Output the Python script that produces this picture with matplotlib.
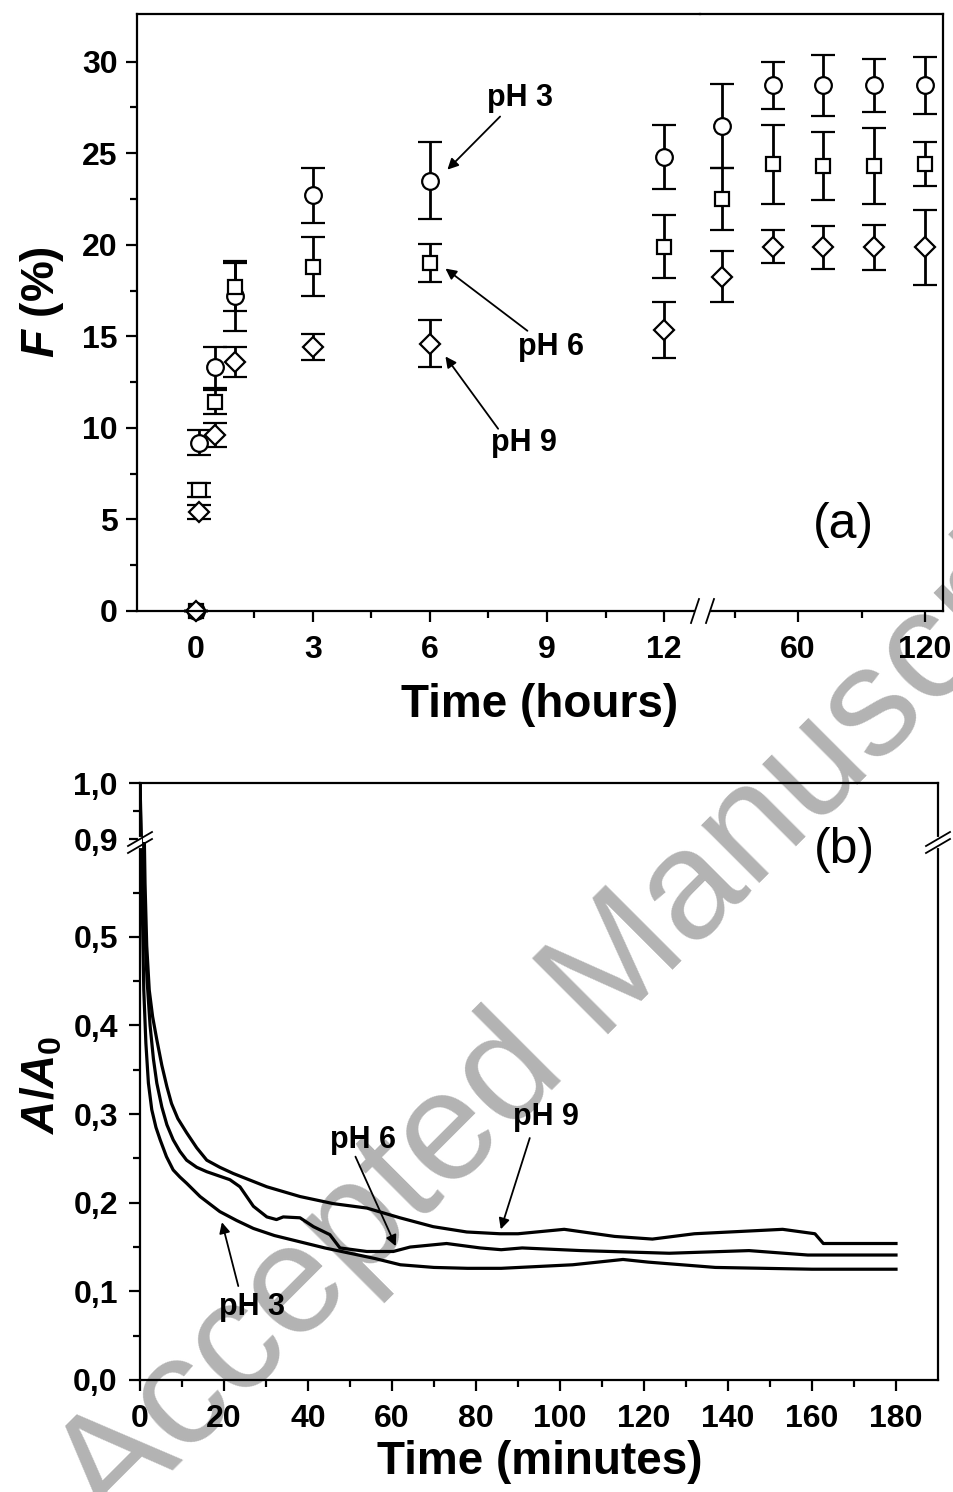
import numpy as np
import matplotlib
matplotlib.use("Agg")
import matplotlib.pyplot as plt
from matplotlib.lines import Line2D
from matplotlib.ticker import FixedLocator, FuncFormatter

# ---- panel (a): release F (%) vs time (hours), three pH values
t_hours = [0, 0.083, 0.5, 1, 3, 6, 12, 24, 48, 72, 96, 120]
F_ph3 = [0, 9.2, 13.3, 17.2, 22.7, 23.5, 24.8, 26.5, 28.7, 28.7, 28.7, 28.7]
err_ph3 = [0, 0.7, 1.1, 1.9, 1.5, 2.1, 1.75, 2.3, 1.3, 1.65, 1.45, 1.55]
F_ph6 = [0, 6.6, 11.4, 17.7, 18.8, 19.0, 19.9, 22.5, 24.4, 24.3, 24.3, 24.4]
err_ph6 = [0, 0.4, 0.65, 1.3, 1.6, 1.05, 1.7, 1.7, 2.15, 1.85, 2.1, 1.2]
F_ph9 = [0, 5.4, 9.6, 13.6, 14.4, 14.6, 15.35, 18.25, 19.9, 19.85, 19.85, 19.85]
err_ph9 = [0, 0.4, 0.65, 0.8, 0.7, 1.3, 1.55, 1.4, 0.9, 1.2, 1.25, 2.05]

# ---- panel (b): A/A0 vs time (minutes)
t_ph3 = [0, 0.3, 0.6, 0.9, 1.4, 2.0, 2.8, 3.8, 4.8, 6.3, 7.9, 9.5, 11.1, 14.3,
         19, 23, 27, 32, 38, 44, 50, 56, 62, 70, 78, 86, 103, 115, 121, 137,
         160, 180]
A_ph3 = [1.0, 0.75, 0.52, 0.44, 0.38, 0.335, 0.305, 0.285, 0.271, 0.252, 0.237,
         0.229, 0.222, 0.207, 0.190, 0.180, 0.171, 0.163, 0.156, 0.149, 0.143,
         0.137, 0.130, 0.127, 0.126, 0.126, 0.130, 0.136, 0.133, 0.127, 0.125,
         0.125]
t_ph6 = [0, 0.4, 0.8, 1.2, 1.7, 2.4, 3.2, 4.0, 5.2, 6.4, 7.9, 9.5, 11.1, 13.5,
         15.9, 21.4, 23.8, 27, 30.2, 32.5, 34.1, 38.1, 41.3, 45.2, 47.6, 54,
         60.3, 64.3, 73, 81, 86, 91, 105, 126, 145, 159, 180]
A_ph6 = [1.0, 0.8, 0.6, 0.5, 0.45, 0.40, 0.362, 0.335, 0.308, 0.288, 0.271,
         0.258, 0.248, 0.240, 0.235, 0.226, 0.218, 0.196, 0.184, 0.181, 0.184,
         0.183, 0.173, 0.164, 0.149, 0.145, 0.145, 0.150, 0.154, 0.149, 0.147,
         0.149, 0.146, 0.143, 0.146, 0.141, 0.141]
t_ph9 = [0, 0.4, 0.8, 1.2, 1.6, 2.2, 3.0, 4.0, 5.2, 6.4, 7.5, 9.0, 11.1, 13.5,
         15.9, 19, 22.2, 30.2, 38.1, 46, 54, 61.9, 69.8, 77.8, 85.7, 90, 101,
         113, 122, 132, 153, 160.7, 162.7, 180]
A_ph9 = [1.0, 0.88, 0.68, 0.56, 0.49, 0.44, 0.41, 0.384, 0.355, 0.331, 0.312,
         0.295, 0.279, 0.262, 0.248, 0.240, 0.233, 0.218, 0.207, 0.199, 0.194,
         0.183, 0.173, 0.167, 0.165, 0.165, 0.170, 0.162, 0.159, 0.165, 0.170,
         0.165, 0.154, 0.154]

# annotation labels: (text, text pos, arrow tail, arrow tip)
notes_a = [("pH 3", (8.3, 28.0), (7.8, 27.0), (6.45, 24.1)),
           ("pH 6", (9.1, 14.4), (8.5, 15.3), (6.4, 18.7)),
           ("pH 9", (8.4, 9.2), (7.75, 9.95), (6.4, 13.9))]
notes_b = [("pH 6", (53.2, 0.271), (51.3, 0.252), (60.9, 0.151)),
           ("pH 9", (96.7, 0.297), (92.8, 0.273), (85.9, 0.170)),
           ("pH 3", (26.7, 0.082), (23.4, 0.106), (19.5, 0.178))]

plt.rcParams['font.family'] = ['Liberation Sans', 'DejaVu Sans']
plt.rcParams['font.weight'] = 'bold'
plt.rcParams['mathtext.fontset'] = 'custom'
plt.rcParams['mathtext.it'] = 'Liberation Sans:italic:bold'
plt.rcParams['mathtext.bf'] = 'Liberation Sans:bold'
plt.rcParams['mathtext.rm'] = 'Liberation Sans:bold'

W, H = 954.0, 1492.0
fig = plt.figure(figsize=(W / 100, H / 100), dpi=100)
fig.patch.set_facecolor('white')


def px_axes(left, top, right, bottom):
    ax = fig.add_axes([left / W, 1 - bottom / H, (right - left) / W, (bottom - top) / H])
    ax.patch.set_alpha(0)
    for s in ax.spines.values():
        s.set_linewidth(1.6)
    return ax


def fig_line(xs, ys, color='black', lw=1.3):
    fig.add_artist(Line2D([x / W for x in xs], [1 - y / H for y in ys],
                          transform=fig.transFigure, color=color, lw=lw, zorder=10))


def style_ticks(ax):
    ax.tick_params(which='both', direction='out', width=1.6, labelsize=23,
                   top=False, right=False)
    ax.tick_params(which='major', length=8)
    ax.tick_params(which='minor', length=5)


comma = FuncFormatter(lambda v, p: f"{v:.1f}".replace('.', ','))

# watermark behind everything
fig.text(110 / W, 1 - 1532 / H, "Accepted Manuscript", rotation=45,
         rotation_mode='anchor', ha='left', va='baseline', fontsize=112,
         fontweight='normal', color='#b3b3b3', zorder=-5)

# ================= panel (a) =================
ax1 = px_axes(137, 14, 700, 611)
ax2 = px_axes(700, 14, 943, 611)
ax1.set_xlim(-1.5, 12.92)
ax2.set_xlim(13.7, 128.5)
for ax in (ax1, ax2):
    ax.set_ylim(0, 32.6)
    style_ticks(ax)
ax1.spines['right'].set_visible(False)
ax2.spines['left'].set_visible(False)
ax2.tick_params(which='both', left=False, labelleft=False)

ax1.xaxis.set_major_locator(FixedLocator([0, 3, 6, 9, 12]))
ax1.xaxis.set_minor_locator(FixedLocator([1.5, 4.5, 7.5, 10.5]))
ax2.xaxis.set_major_locator(FixedLocator([60, 120]))
ax2.xaxis.set_minor_locator(FixedLocator([30, 90]))
ax1.yaxis.set_major_locator(FixedLocator(np.arange(0, 31, 5)))
ax1.yaxis.set_minor_locator(FixedLocator(np.arange(2.5, 31, 5)))
ax1.tick_params(axis='x', pad=9)
ax2.tick_params(axis='x', pad=9)
ax1.tick_params(axis='y', pad=6)

t_arr = np.array(t_hours)
series = [(F_ph3, err_ph3, 'o', 12), (F_ph6, err_ph6, 's', 10.5), (F_ph9, err_ph9, 'D', 10)]
for ax, mask in ((ax1, t_arr <= 12.9), (ax2, t_arr >= 13.7)):
    for vals, errs, mk, ms in series:
        cont = ax.errorbar(t_arr[mask], np.array(vals)[mask], yerr=np.array(errs)[mask],
                           fmt=mk, ms=ms, mfc='white', mec='black', mew=1.6,
                           ecolor='black', elinewidth=2, capsize=8.5, capthick=2)
        for art in cont.get_children():
            art.set_clip_on(False)

for txt, pos, tail, tip in notes_a:
    ax1.text(pos[0], pos[1], txt, fontsize=22, ha='center', va='center')
    ax1.annotate('', xy=tip, xytext=tail,
                 arrowprops=dict(arrowstyle='-|>', color='black', lw=1.3,
                                 mutation_scale=16, shrinkA=0, shrinkB=0))
ax2.text(81.3, 4.7, "(a)", fontsize=36, fontweight='normal', ha='center', va='center')

# break mark on the time axis
fig_line([697, 708], [611, 611], color='white', lw=3)
fig_line([691, 699], [623, 599])
fig_line([706, 714], [623, 599])

fig.text(540 / W, 1 - 705 / H, "Time (hours)", fontsize=33, ha='center', va='center')
fig.text(42 / W, 1 - 302 / H, r"$\mathit{F}$ (%)", fontsize=33, rotation=90,
         ha='center', va='center')

# ================= panel (b) =================
axU = px_axes(140, 783, 938, 842)
axL = px_axes(140, 842, 938, 1380)
for ax in (axU, axL):
    ax.set_xlim(0, 190)
    style_ticks(ax)
    ax.yaxis.set_major_formatter(comma)
    ax.tick_params(axis='y', pad=8)
    for tt, aa in ((t_ph3, A_ph3), (t_ph6, A_ph6), (t_ph9, A_ph9)):
        ax.plot(tt, aa, color='black', lw=2.3)
axU.set_ylim(0.895, 1.0)
axL.set_ylim(0, 0.607)
axU.spines['bottom'].set_visible(False)
axL.spines['top'].set_visible(False)
axU.tick_params(which='both', bottom=False, labelbottom=False)
axU.yaxis.set_major_locator(FixedLocator([0.9, 1.0]))
axU.yaxis.set_minor_locator(FixedLocator([0.95]))
axL.yaxis.set_major_locator(FixedLocator(np.arange(0, 0.51, 0.1)))
axL.yaxis.set_minor_locator(FixedLocator(np.arange(0.05, 0.56, 0.1)))
axL.xaxis.set_major_locator(FixedLocator(np.arange(0, 181, 20)))
axL.xaxis.set_minor_locator(FixedLocator(np.arange(10, 180, 20)))
axL.tick_params(axis='x', pad=9)

for txt, pos, tail, tip in notes_b:
    axL.text(pos[0], pos[1], txt, fontsize=22, ha='center', va='center')
    axL.annotate('', xy=tip, xytext=tail,
                 arrowprops=dict(arrowstyle='-|>', color='black', lw=1.3,
                                 mutation_scale=16, shrinkA=0, shrinkB=0))
axL.text(167.8, 0.598, "(b)", fontsize=36, fontweight='normal', ha='center', va='center')

# break marks on both vertical spines
for xc in (140, 938):
    fig_line([xc, xc], [839, 846], color='white', lw=3)
    fig_line([xc - 12, xc + 12], [846, 832])
    fig_line([xc - 12, xc + 12], [853, 839])

fig.text(540 / W, 1 - 1462 / H, "Time (minutes)", fontsize=33, ha='center', va='center')
fig.text(42 / W, 1 - 1085 / H, r"$\mathit{A/A}_\mathbf{0}$", fontsize=33, rotation=90,
         ha='center', va='center')

fig.savefig("out.png", dpi=100, facecolor='white')
